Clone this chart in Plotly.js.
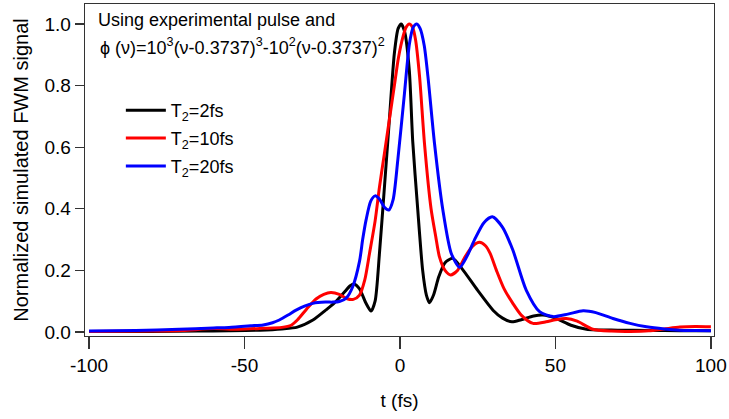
<!DOCTYPE html>
<html>
<head>
<meta charset="utf-8">
<script src="https://cdn.plot.ly/plotly-3.0.1.min.js"></script>
<style>html,body{margin:0;padding:0;background:#fff;}#chart{width:729px;height:419px;}</style>
</head>
<body>
<div id="chart"></div>
<script>
// T2 = 2 fs (black)
var t2 = [-100, -80, -65, -55, -45, -38, -33, -28, -24, -21, -18, -16, -14.8, -13, -11, -9.3, -8, -6.6, -5, -3.4, -1.8, -0.6, 0.4, 1.5, 3, 4.1, 5.7, 7.3, 8.5, 9.5, 10.8, 12.5, 14.5, 17, 20, 25, 30, 33, 36, 39, 43, 46, 50, 55, 60, 70, 80, 90, 100];
var v2 = [0.002, 0.002, 0.003, 0.004, 0.006, 0.01, 0.016, 0.039, 0.07, 0.095, 0.128, 0.150, 0.156, 0.140, 0.095, 0.068, 0.10, 0.255, 0.47, 0.69, 0.905, 0.985, 1.0, 0.975, 0.85, 0.62, 0.40, 0.20, 0.12, 0.095, 0.12, 0.18, 0.225, 0.239, 0.205, 0.135, 0.07, 0.045, 0.033, 0.04, 0.052, 0.055, 0.045, 0.022, 0.009, 0.006, 0.005, 0.004, 0.004];
// T2 = 10 fs (red)
var t10 = [-100, -80, -70, -60, -52, -44, -38, -35, -33, -30, -27, -24.5, -22.2, -19.5, -17, -15, -13, -11.3, -9.8, -8, -6.6, -5, -3.4, -1.8, -0.5, 1, 2, 3, 4, 5, 6.3, 7.9, 10, 11.5, 12.7, 14.5, 16.3, 18.5, 21, 23.5, 25.6, 27.5, 29, 31, 33.5, 36.3, 39, 42.8, 47, 50, 53.5, 57, 62, 68, 74, 80, 85, 90, 95, 100];
var v10 = [0.002, 0.003, 0.005, 0.011, 0.009, 0.012, 0.015, 0.022, 0.039, 0.075, 0.107, 0.122, 0.128, 0.122, 0.108, 0.106, 0.12, 0.17, 0.255, 0.36, 0.47, 0.58, 0.69, 0.80, 0.89, 0.96, 0.99, 1.0, 0.99, 0.95, 0.83, 0.61, 0.40, 0.31, 0.244, 0.20, 0.185, 0.20, 0.245, 0.28, 0.291, 0.28, 0.255, 0.201, 0.14, 0.093, 0.055, 0.028, 0.033, 0.04, 0.044, 0.035, 0.009, 0.003, 0.002, 0.004, 0.01, 0.016, 0.018, 0.017];
// T2 = 20 fs (blue)
var t20 = [-100, -85, -71, -60, -55, -48, -44, -41, -38.8, -36, -33.4, -30.5, -28, -24, -21.6, -19.5, -17.3, -15.2, -13, -12, -10.9, -9.4, -8, -6.5, -5, -3.6, -2.2, -0.7, 1.45, 3.06, 4.3, 5.4, 6.5, 7.8, 9, 11.1, 13.8, 16.5, 19.2, 21.5, 24, 27, 29.7, 33, 36.3, 40.6, 44.9, 49.2, 54, 58.9, 63, 68.5, 74, 79.3, 85, 90, 95, 100];
var v20 = [0.003, 0.005, 0.009, 0.013, 0.015, 0.02, 0.023, 0.03, 0.039, 0.055, 0.071, 0.085, 0.093, 0.097, 0.097, 0.099, 0.11, 0.147, 0.23, 0.30, 0.364, 0.425, 0.442, 0.43, 0.405, 0.396, 0.43, 0.558, 0.775, 0.937, 0.99, 1.0, 0.985, 0.93, 0.829, 0.613, 0.396, 0.255, 0.21, 0.245, 0.30, 0.355, 0.374, 0.34, 0.266, 0.136, 0.066, 0.05, 0.058, 0.069, 0.063, 0.044, 0.028, 0.017, 0.01, 0.006, 0.005, 0.004];

var seriesNames = ['T<sub>2</sub>=2fs', 'T<sub>2</sub>=10fs', 'T<sub>2</sub>=20fs'];
var seriesColors = ['#000000', '#ff0000', '#0000ff'];
var xTickVals = [-100, -50, 0, 50, 100];
var xTickText = ['-100', '-50', '0', '50', '100'];
var yTickVals = [0, 0.2, 0.4, 0.6, 0.8, 1.0];
var noteLine1 = 'Using experimental pulse and';
var noteLine2 = '\u03D5 (\u03BD)=10<sup>3</sup>(\u03BD-0.3737)<sup>3</sup>-10<sup>2</sup>(\u03BD-0.3737)<sup>2</sup>';

var xs = [t2, t10, t20], ys = [v2, v10, v20];
var traces = xs.map(function (x, i) {
  return {
    x: x, y: ys[i], type: 'scatter', mode: 'lines', name: seriesNames[i], legendgroup: 'g' + i,
    line: {color: seriesColors[i], width: 3, shape: 'spline', smoothing: 0.7}
  };
});

var FONT = 'Liberation Sans, Arial, sans-serif';
var layout = {
  width: 729, height: 419,
  margin: {l: 85, r: 15, t: 4, b: 83},
  paper_bgcolor: '#fff', plot_bgcolor: '#fff',
  font: {family: FONT, size: 19, color: '#000'},
  showlegend: true,
  legend: {x: 0.057, y: 0.735, xanchor: 'left', yanchor: 'top', bgcolor: 'rgba(0,0,0,0)',
           traceorder: 'grouped', tracegroupgap: 1.5,
           borderwidth: 0, font: {family: FONT, size: 18, color: '#000'}, itemwidth: 40},
  xaxis: {
    range: [-101.3, 101], tickvals: xTickVals, ticktext: xTickText, ticks: 'outside', ticklen: 12, tickwidth: 1.3,
    tickcolor: '#333', showline: true, linecolor: '#333', linewidth: 1.3, mirror: true,
    showgrid: false, zeroline: false, tickfont: {family: FONT, size: 19, color: '#000'},
    title: {text: 't (fs)', font: {family: FONT, size: 19, color: '#000'}, standoff: 18}
  },
  yaxis: {
    range: [-0.013, 1.065], tickvals: yTickVals, tickformat: '.1f', ticks: 'outside', ticklen: 9,
    tickwidth: 1.3, tickcolor: '#333', showline: true, linecolor: '#333', linewidth: 1.3, mirror: true,
    showgrid: false, zeroline: false, tickfont: {family: FONT, size: 19, color: '#000'},
    title: {text: 'Normalized simulated FWM signal', font: {family: FONT, size: 20, color: '#000'}, standoff: 10}
  },
  annotations: [
    {xref: 'paper', yref: 'paper', x: 0.0175, y: 0.952, xanchor: 'left', yanchor: 'middle',
     text: noteLine1, showarrow: false, font: {family: FONT, size: 18, color: '#000'}},
    {xref: 'paper', yref: 'paper', x: 0.0207, y: 0.872, xanchor: 'left', yanchor: 'middle',
     text: noteLine2, showarrow: false, font: {family: FONT, size: 18, color: '#000'}}
  ]
};

Plotly.newPlot('chart', traces, layout, {displayModeBar: false, staticPlot: true});
</script>
</body>
</html>
